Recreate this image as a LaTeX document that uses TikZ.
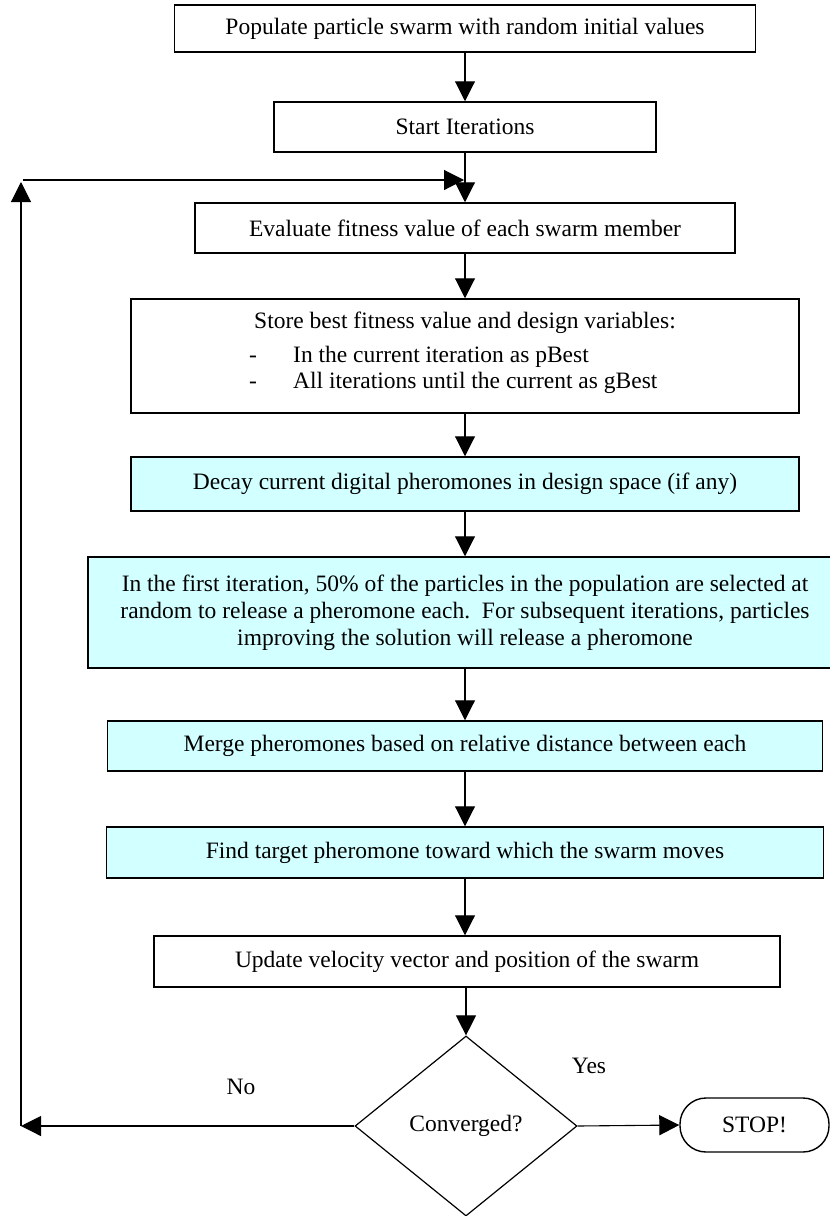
\documentclass[tikz,border=0pt]{standalone}
\usepackage{fontspec}
\setmainfont{Liberation Serif}
\usetikzlibrary{arrows.meta,shapes.geometric}
\definecolor{pcyan}{HTML}{D2FFFF}
\begin{document}
\begin{tikzpicture}[x=1pt,y=-1pt,
  every node/.style={font=\fontsize{23.5}{27}\selectfont},
  box/.style={draw,line width=1.5pt,inner sep=0pt,align=center},
  cbox/.style={box,fill=pcyan},
  txt/.style={inner sep=0pt},
  arr/.style={-{Triangle[length=20pt,width=20pt]},line width=1.1pt},
  dec/.style={draw,diamond,line width=1.2pt,inner sep=0pt,minimum width=222pt,minimum height=180pt,aspect=1.233},
  term/.style={draw,line width=1.4pt,rounded corners=26pt,inner sep=0pt,minimum width=149pt,minimum height=54pt}]
\useasboundingbox (0,0) rectangle (830,1216);
\fill[white] (0,0) rectangle (830,1216);

\node[box,minimum width=581pt,minimum height=47pt] (b1) at (465,28.5) {Populate particle swarm with random initial values};
\node[box,minimum width=382pt,minimum height=50pt] (b2) at (465,127) {Start Iterations};
\node[box,minimum width=540pt,minimum height=50pt] (b3) at (465,228) {Evaluate fitness value of each swarm member};
\node[box,minimum width=668pt,minimum height=114pt] (b4) at (465,356) {};
\node[txt] (b4a) at (465,323) {Store best fitness value and design variables:};
\node[txt,anchor=base west] (b4b) at (249,362) {-};
\node[txt,anchor=base west] (b4c) at (293,362) {In the current iteration as pBest};
\node[txt,anchor=base west] (b4d) at (249,388) {-};
\node[txt,anchor=base west] (b4e) at (293,388) {All iterations until the current as gBest};
\node[cbox,minimum width=668pt,minimum height=54pt] (b5) at (465,484) {Decay current digital pheromones in design space (if any)};
\node[cbox,minimum width=754pt,minimum height=111pt] (b6) at (465,612.5) {In the first iteration, 50\% of the particles in the population are selected at\\random to release a pheromone each.\ \ For subsequent iterations, particles\\improving the solution will release a pheromone};
\node[cbox,minimum width=715pt,minimum height=50pt] (b7) at (465,746) {Merge pheromones based on relative distance between each};
\node[cbox,minimum width=717pt,minimum height=51pt] (b8) at (465,852.5) {Find target pheromone toward which the swarm moves};
\node[box,minimum width=626pt,minimum height=51pt] (b9) at (467,961.5) {Update velocity vector and position of the swarm};
\node[dec] (dia) at (466,1126) {Converged?};
\node[term] (stop) at (754.5,1125) {STOP!};
\node[txt] (yes) at (589,1066) {Yes};
\node[txt] (no) at (241,1087) {No};

\coordinate (lb) at (21,1126);
\coordinate (lt) at (21,182);
\coordinate (hs) at (23,180);
\coordinate (he) at (464,180);

\draw[arr] (b1.south) -- (b2.north);
\draw[arr] (b2.south) -- (b3.north);
\draw[arr] (b3.south) -- (b4.north);
\draw[arr] (b4.south) -- (b5.north);
\draw[arr] (b5.south) -- (b6.north);
\draw[arr] (b6.south) -- (b7.north);
\draw[arr] (b7.south) -- (b8.north);
\draw[arr] (b8.south) -- (b8.south |- b9.north);
\draw[arr] (dia.north |- b9.south) -- (dia.north);
\draw[arr] (dia.east) -- (stop.west);
\draw[arr] (dia.west) -- (lb);
\draw[arr] (lb) -- (lt);
\draw[arr] (hs) -- (he);
\end{tikzpicture}
\end{document}
